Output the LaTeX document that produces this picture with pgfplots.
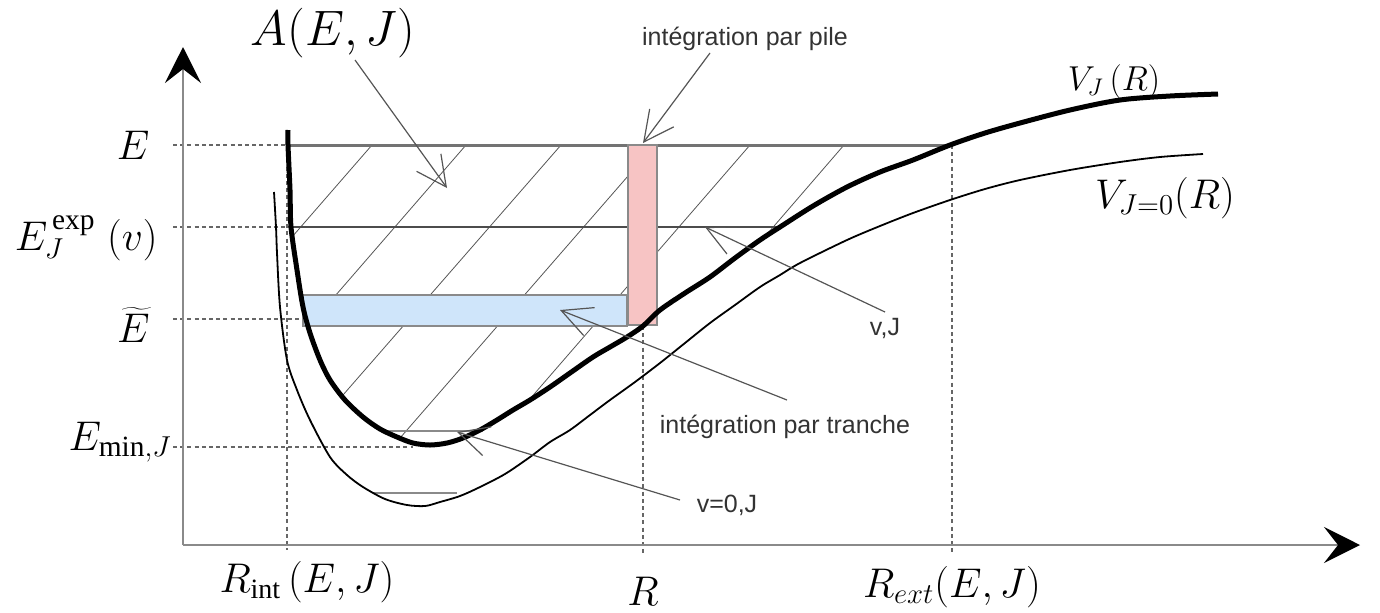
\documentclass[border=0pt]{standalone}
\usepackage{fontspec}
\setmainfont{Liberation Serif}
\newfontfamily\arial{Liberation Sans}
\usepackage{pgfplots}
\pgfplotsset{compat=1.18}
\usetikzlibrary{arrows.meta}

\definecolor{annot}{HTML}{555555}
\definecolor{axgray}{HTML}{8A8A8A}
\definecolor{tranche}{HTML}{CFE5FA}
\definecolor{pile}{HTML}{F7C4C4}

% coordinates are pixels of the original figure (y grows downwards)
\pgfplotstableread{
x y
288 130
288 145
290 190
291 227
297 270
303 307
310 333
320 360
330 380
345 400
363 417
380 429
397 437
413 443
430 445
447 443
463 438
480 430
497 420
513 410
530 400
550 387
570 373
593 357
610 347
627 337
643 326
660 310
685 293
710 277
735 258
760 240
780 227
813 206
847 187
880 172
913 160
950 145
985 133
1020 123
1070 110
1120 100
1170 96
1218 94
}\VJ

\pgfplotstableread{
x y
274 192
276 227
277 253
280 307
287 360
297 390
310 420
330 457
347 475
363 487
385 499
407 505
425 506
440 502
460 496
480 487
505 474
530 457
550 442
570 430
590 415
610 400
635 382
660 363
685 343
710 323
735 305
760 287
780 275
800 263
847 240
880 226
913 213
950 200
985 189
1020 180
1070 170
1120 162
1160 157
1203 154
}\VJzero

\begin{document}
\begin{tikzpicture}
\begin{axis}[
    scale only axis,
    width=690pt, height=306pt,
    xmin=0, xmax=1380, ymin=0, ymax=612,
    y dir=reverse,
    hide axis,
    clip=false,
    barb/.style={annot, line width=0.6pt,
        -{Straight Barb[length=15pt, width=15pt, line width=0.6pt]}},
    guide/.style={black!60, line width=0.6pt, dash pattern=on 2pt off 1.6pt},
]
\addplot[draw=none] coordinates {(0,0) (1380,612)};

% hatching of A(E,J)
\addplot[annot, line width=0.4pt] coordinates {(372,145) (292,237)};
\addplot[annot, line width=0.4pt] coordinates {(466,145) (309,326)};
\addplot[annot, line width=0.4pt] coordinates {(561,145) (343,395)};
\addplot[annot, line width=0.4pt] coordinates {(655,145) (400,438)};
\addplot[annot, line width=0.4pt] coordinates {(750,145) (529,400)};
\addplot[annot, line width=0.4pt] coordinates {(844,145) (762,240)};

% energy levels
\addplot[guide] coordinates {(173,145) (288,145)};
\addplot[guide] coordinates {(173,227) (293,227)};
\addplot[guide] coordinates {(173,319) (303,319)};
\addplot[guide] coordinates {(173,447) (413,447)};
\addplot[guide] coordinates {(287,145) (287,550)};
\addplot[guide] coordinates {(643,326) (643,555)};
\addplot[guide] coordinates {(952,145) (952,553)};
\addplot[black!55, line width=1.5pt] coordinates {(288,145) (950,145)};
\addplot[black!70, line width=0.6pt] coordinates {(293,227) (778,227)};
\addplot[axgray, line width=1pt] coordinates {(383,431) (483,431)};
\addplot[axgray, line width=1pt] coordinates {(373,493) (457,493)};

% slice and pile
\addplot[fill=tranche, draw=axgray, line width=0.7pt] coordinates {(303,295) (627,295) (627,326) (303,326)} -- cycle;
\addplot[fill=pile, draw=axgray, line width=0.7pt] coordinates {(628,145) (657,145) (657,325) (628,325)} -- cycle;

% potentials
\addplot[black, line width=2.5pt, smooth] table {\VJ};
\addplot[black, line width=0.9pt, smooth] table {\VJzero};

% axes
\addplot[axgray, line width=1pt, -{Stealth[length=18pt, width=18pt, inset=7pt, black]}] coordinates {(183,545) (183,47)};
\addplot[axgray, line width=1pt, -{Stealth[length=18pt, width=18pt, inset=7pt, black]}] coordinates {(183,545) (1360,545)};

% annotation arrows
\addplot[barb] coordinates {(355,60) (447,188)};
\addplot[barb] coordinates {(710,53) (643,143)};
\addplot[barb] coordinates {(885,312) (705,227)};
\addplot[barb] coordinates {(787,400) (560,310)};
\addplot[barb] coordinates {(680,500) (457,432)};

% labels
\node[font={\fontsize{25}{30}\selectfont}, inner sep=0] at (axis cs:333,33) {$A(E,J)$};
\node[font={\fontsize{21}{25}\selectfont}, inner sep=0] at (axis cs:133,145) {$E$};
\node[font={\fontsize{21}{25}\selectfont}, inner sep=0, anchor=base east] at (axis cs:158,250) {$E_J^{\,\mathrm{exp}}\;(v)$};
\node[font={\fontsize{21}{25}\selectfont}, inner sep=0, anchor=base east] at (axis cs:150,342) {$\widetilde{E}$};
\node[font={\fontsize{21}{25}\selectfont}, inner sep=0, anchor=base east] at (axis cs:172,450) {$E_{\mathrm{min},J}$};
\node[font={\fontsize{20}{24}\selectfont}, inner sep=0, anchor=base] at (axis cs:307,592) {$R_{\mathrm{int}}\,(E,J)$};
\node[font={\fontsize{21}{25}\selectfont}, inner sep=0, anchor=base] at (axis cs:643,605) {$R$};
\node[font={\fontsize{20}{24}\selectfont}, inner sep=0, anchor=base] at (axis cs:952,597) {$R_{ext}(E,J)$};
\node[font={\fontsize{17.5}{21}\selectfont}, inner sep=0, anchor=base] at (axis cs:1114,90) {$V_J\,(R)$};
\node[font={\fontsize{22}{26}\selectfont}, inner sep=0, anchor=base] at (axis cs:1165,208) {$V_{J=0}(R)$};

\node[font={\arial\fontsize{12.5}{15}\selectfont}, text=black!80, inner sep=0, anchor=base] at (axis cs:745,45) {intégration par pile};
\node[font={\arial\fontsize{12.5}{15}\selectfont}, text=black!80, inner sep=0, anchor=base] at (axis cs:885,335) {v,J};
\node[font={\arial\fontsize{12.5}{15}\selectfont}, text=black!80, inner sep=0, anchor=base] at (axis cs:785,433) {intégration par tranche};
\node[font={\arial\fontsize{12.5}{15}\selectfont}, text=black!80, inner sep=0, anchor=base] at (axis cs:727,512) {v=0,J};
\end{axis}
\end{tikzpicture}
\end{document}
